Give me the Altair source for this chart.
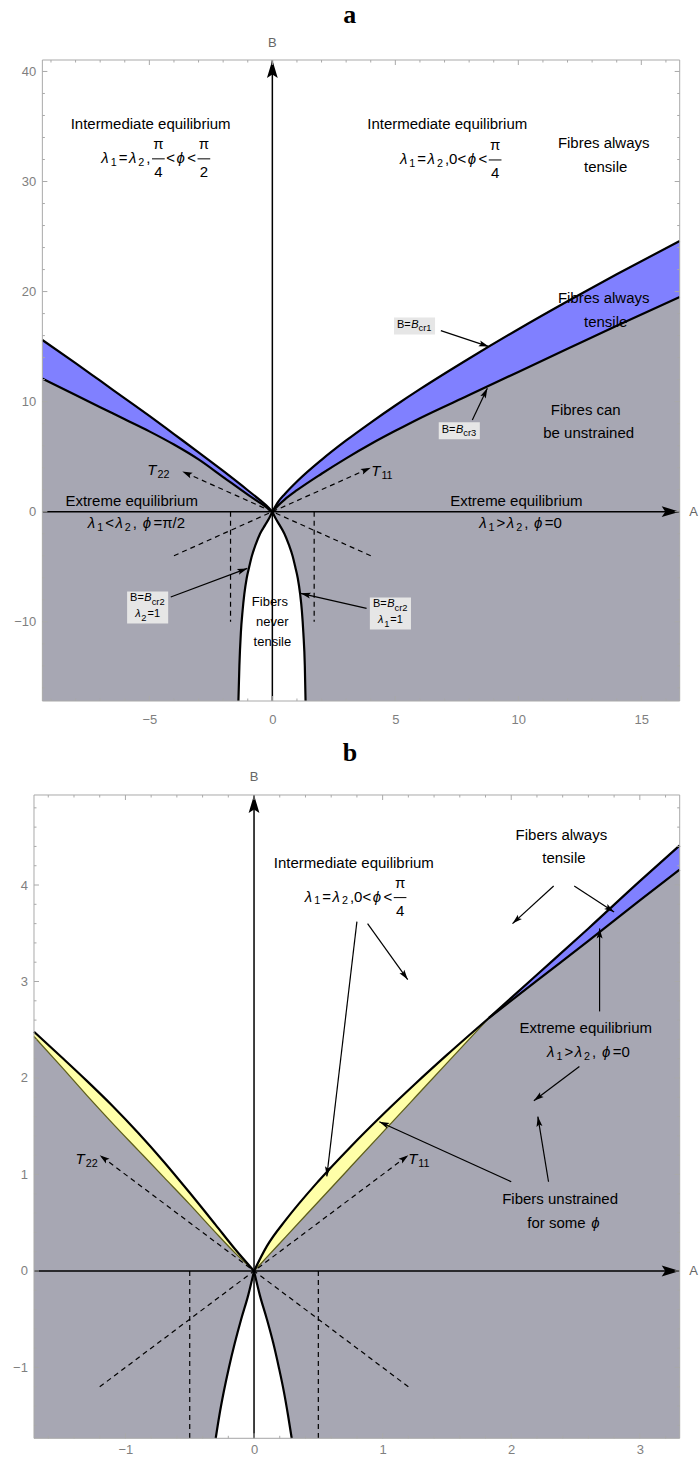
import math
import altair as alt
import pandas as pd

FONT = "Liberation Sans"
SERIF = "Liberation Serif"
GRAY_FILL = "#A7A7B3"
BLUE_FILL = "#8080FF"
YELLOW_FILL = "#FFFFA8"
OLIVE = "#5E5E1A"
FRAME_COL = "#A9A9A9"
LABEL_COL = "#7F7F7F"

# arrowhead glyph: tip at the origin, body along +y (rotated by angle)
ARROW = "M0,0L0.6,2L0,1.6L-0.6,2Z"

# ---------------------------------------------------------------- panel a
a_xdom = [-9.69, 16.56]
a_ydom = [-17.2, 41.04]
a_frame_x = [-9.35, 16.56]
a_xlabels = [-5, 0, 5, 10, 15]
a_ylabels = [-10, 0, 10, 20, 30, 40]
a_xminor = [-9, -8, -7, -6, -4, -3, -2, -1, 1, 2, 3, 4, 6, 7, 8, 9, 11, 12, 13, 14, 16]
a_yminor = [-16, -14, -12, -8, -6, -4, -2, 2, 4, 6, 8, 12, 14, 16, 18,
            22, 24, 26, 28, 32, 34, 36, 38]

a_right_A = [0, 0.25, 0.5, 1, 2, 3, 4, 5, 6, 8, 10, 12, 14, 16.56]
a_right_upper = [0, 0.93, 1.59, 2.74, 4.71, 6.47, 8.10, 9.65, 11.13, 13.92, 16.58, 19.12, 21.57, 24.6]
a_right_lower = [0, 0.6, 1.1, 1.95, 3.45, 4.85, 6.15, 7.35, 8.5, 10.6, 12.7, 14.8, 16.9, 19.5]
a_left_A = [-9.35, -8, -7, -6, -5, -4, -3, -2, -1, -0.5, -0.25, 0]
a_left_upper = [15.6, 13.5, 11.9, 10.3, 8.7, 7.05, 5.4, 3.7, 1.95, 1.05, 0.58, 0]
a_left_lower = [12.1, 10.6, 9.5, 8.4, 7.3, 6.1, 4.75, 3.15, 1.55, 0.8, 0.42, 0]
a_par_B = [-17.2, -14, -11, -9, -7.5, -6, -5, -4, -3, -2, -1.2, -0.6, 0]
a_par_left = [-1.38, -1.34, -1.28, -1.21, -1.14, -1.04, -0.94, -0.83, -0.68, -0.50, -0.29, -0.13, 0]
a_par_right = [1.35, 1.32, 1.26, 1.20, 1.13, 1.03, 0.93, 0.82, 0.67, 0.49, 0.29, 0.13, 0]

# ---------------------------------------------------------------- panel b
b_xdom = [-1.711, 3.31]
b_ydom = [-1.734, 4.933]
b_frame_x = [-1.711, 3.31]
b_xlabels = [-1, 0, 1, 2, 3]
b_ylabels = [-1, 0, 1, 2, 3, 4]
b_xminor = [-1.6, -1.4, -1.2, -0.8, -0.6, -0.4, -0.2, 0.2, 0.4, 0.6, 0.8,
            1.2, 1.4, 1.6, 1.8, 2.2, 2.4, 2.6, 2.8, 3.2]
b_yminor = [-1.6, -1.4, -1.2, -0.8, -0.6, -0.4, -0.2, 0.2, 0.4, 0.6, 0.8,
            1.2, 1.4, 1.6, 1.8, 2.2, 2.4, 2.6, 2.8, 3.2, 3.4, 3.6, 3.8,
            4.2, 4.4, 4.6, 4.8]

b_right_A = [0, 0.1, 0.25, 0.5, 0.75, 1.0, 1.25, 1.5, 1.825]
b_right_upper = [0, 0.257, 0.534, 0.930, 1.286, 1.619, 1.935, 2.239, 2.62]
b_right_olive = [0, 0.144, 0.359, 0.718, 1.077, 1.436, 1.795, 2.154, 2.62]
b_far_A = [1.825, 2.2, 2.6, 3.0, 3.31]
b_far_upper = [2.62, 3.07, 3.55, 4.04, 4.41]
b_far_lower = [2.62, 3.01, 3.42, 3.84, 4.16]
b_left_A = [-1.711, -1.5, -1.3, -1.1, -0.9, -0.7, -0.5, -0.3, -0.15, 0]
b_left_upper = [2.48, 2.22, 1.97, 1.71, 1.43, 1.13, 0.81, 0.48, 0.23, 0]
b_left_olive = [2.43, 2.12, 1.82, 1.53, 1.25, 0.97, 0.69, 0.40, 0.19, 0]
b_par_B = [-1.734, -1.5, -1.25, -1.0, -0.75, -0.5, -0.25, 0]
b_par_left = [-0.298, -0.27, -0.235, -0.195, -0.15, -0.10, -0.045, 0]
b_par_right = [0.293, 0.265, 0.232, 0.193, 0.15, 0.10, 0.045, 0]

CW = {"λ": 0.56, "ϕ": 0.62, "π": 0.58, "=": 0.584, "<": 0.584, ">": 0.584,
      ",": 0.278, " ": 0.278, "/": 0.278, "T": 0.611, "B": 0.667, "c": 0.5,
      "r": 0.333, "f": 0.278, "o": 0.556, "s": 0.5, "m": 0.833, "e": 0.556}


def text_width(s, size):
    return sum(CW.get(ch, 0.556) * size for ch in s)


def layout_math(segs, size, gap, sub=0.72):
    """Inline math: ('n', txt) upright, ('i', txt) italic, ('s', txt) subscript,
    ('f', num, den) stacked fraction. Returns glyph items and fraction bars."""
    items, bars, pos = [], [], 0.0
    for seg in segs:
        kind = seg[0]
        if kind in ("n", "i"):
            items.append([pos, 0, seg[1], size, kind == "i", "left"])
            pos += text_width(seg[1], size) + gap
        elif kind == "s":
            ss = size * sub
            items.append([pos - 0.5, size * 0.32, seg[1], ss, False, "left"])
            pos += text_width(seg[1], ss) + gap
        else:
            w = max(text_width(seg[1], size), text_width(seg[2], size)) + 4
            items.append([pos + w / 2, -size * 0.9, seg[1], size, False, "center"])
            items.append([pos + w / 2, size * 0.95, seg[2], size, False, "center"])
            bars.append([pos, pos + w, 1])
            pos += w + gap
    total = pos - gap
    for it in items:
        it[0] -= total / 2
    for b in bars:
        b[0] -= total / 2
        b[1] -= total / 2
    return items, bars, total


def build_panel(P):
    xs = alt.Scale(domain=P["xdom"], nice=False, zero=False)
    ys = alt.Scale(domain=P["ydom"], nice=False, zero=False)
    xaxis = alt.Axis(values=P["xlabels"], ticks=False, domain=False, grid=False,
                     labelPadding=P["xpad"], labelColor=LABEL_COL, labelFontSize=13,
                     labelFont=FONT, title=None)
    yaxis = alt.Axis(values=P["ylabels"], ticks=False, domain=False, grid=False,
                     labelPadding=P["ypad"], labelColor=LABEL_COL, labelFontSize=13,
                     labelFont=FONT, title=None)
    sx = P["w"] / (P["xdom"][1] - P["xdom"][0])
    sy = P["h"] / (P["ydom"][1] - P["ydom"][0])

    def X(f):
        return alt.X(f, type="quantitative", scale=xs, axis=xaxis)

    def Y(f):
        return alt.Y(f, type="quantitative", scale=ys, axis=yaxis)

    layers = []
    y0, y1 = P["ydom"]
    fx0, fx1 = P["frame_x"]

    def one(**cols):
        return pd.DataFrame({k: [v] for k, v in cols.items()})

    # ---- filled regions
    for A, L in P["gray"]:
        df = pd.DataFrame({"x": A, "y": L, "y0": [y0] * len(A)})
        layers.append(alt.Chart(df).mark_area(color=GRAY_FILL, opacity=1, interpolate="monotone")
                      .encode(x=X("x"), y=Y("y"), y2="y0"))
    for A, L, U, col in P["bands"]:
        df = pd.DataFrame({"x": A, "lo": L, "hi": U})
        layers.append(alt.Chart(df).mark_area(color=col, opacity=1, interpolate="monotone")
                      .encode(x=X("x"), y=Y("lo"), y2="hi"))
    pB, pl, pr = P["para"]
    df = pd.DataFrame({"b": pB, "l": pl, "r": pr})
    layers.append(alt.Chart(df).mark_area(color="white", opacity=1, orient="horizontal",
                                          interpolate="monotone")
                  .encode(y=Y("b"), x=X("l"), x2="r"))

    # ---- boundary curves
    for A, V, col, sw in P["curves"]:
        df = pd.DataFrame({"x": A, "y": V})
        layers.append(alt.Chart(df).mark_line(color=col, strokeWidth=sw, interpolate="monotone")
                      .encode(x=X("x"), y=Y("y")))
    for branch in (pl, pr):
        df = pd.DataFrame({"x": branch, "y": pB})
        layers.append(alt.Chart(df).mark_line(color="black", strokeWidth=2.2,
                                              interpolate="monotone")
                      .encode(x=X("x"), y=Y("y")))

    def arrowhead(x1, yy1, x2, yy2, size):
        ang = math.degrees(math.atan2((x2 - x1) * sx, (yy2 - yy1) * sy)) % 360
        return (alt.Chart(one(x=x2, y=yy2))
                .mark_point(shape=ARROW, filled=True, size=size, angle=ang, color="black",
                            opacity=1, strokeWidth=0)
                .encode(x=X("x"), y=Y("y")))

    # ---- dashed guides
    for x1, yy1, x2, yy2, head in P["dashed"]:
        layers.append(alt.Chart(one(x=x1, y=yy1, x2=x2, y2=yy2))
                      .mark_rule(color="black", strokeWidth=1.2, strokeDash=[5, 4])
                      .encode(x=X("x"), y=Y("y"), x2="x2", y2="y2"))
        if head:
            layers.append(arrowhead(x1, yy1, x2, yy2, 100))

    # ---- A and B axes with arrowheads
    layers.append(alt.Chart(one(x=fx0, x2=fx1, y=0, y2=0))
                  .mark_rule(color="black", strokeWidth=1.5)
                  .encode(x=X("x"), x2="x2", y=Y("y"), y2="y2"))
    layers.append(arrowhead(fx0, 0, fx1, 0, 324))
    layers.append(alt.Chart(one(x=0, x2=0, y=y0, y2=y1))
                  .mark_rule(color="black", strokeWidth=1.5)
                  .encode(x=X("x"), x2="x2", y=Y("y"), y2="y2"))
    layers.append(arrowhead(0, y0, 0, y1, 324))

    # ---- frame and inward ticks
    layers.append(alt.Chart(one(x=fx0, x2=fx1, y=y0, y2=y1))
                  .mark_rect(fillOpacity=0, stroke=FRAME_COL, strokeWidth=1)
                  .encode(x=X("x"), x2="x2", y=Y("y"), y2="y2"))
    for vals, ln in ((P["xlabels"], 5), (P["xminor"], 2.5)):
        df = pd.DataFrame({"v": vals, "b": [y0] * len(vals), "t": [y1] * len(vals)})
        layers.append(alt.Chart(df).mark_rule(color=FRAME_COL, strokeWidth=1, y2Offset=-ln)
                      .encode(x=X("v"), y=Y("b"), y2="b"))
        layers.append(alt.Chart(df).mark_rule(color=FRAME_COL, strokeWidth=1, y2Offset=ln)
                      .encode(x=X("v"), y=Y("t"), y2="t"))
    for vals, ln in ((P["ylabels"], 5), (P["yminor"], 2.5)):
        df = pd.DataFrame({"v": vals, "l": [fx0] * len(vals), "r": [fx1] * len(vals)})
        layers.append(alt.Chart(df).mark_rule(color=FRAME_COL, strokeWidth=1, x2Offset=ln)
                      .encode(y=Y("v"), x=X("l"), x2="l"))
        layers.append(alt.Chart(df).mark_rule(color=FRAME_COL, strokeWidth=1, x2Offset=-ln)
                      .encode(y=Y("v"), x=X("r"), x2="r"))

    # axis names and panel letter
    layers.append(alt.Chart(one(x=0, y=y1, t="B")).mark_text(
        font=FONT, fontSize=13, color="#666666", dy=P["bname_dy"], baseline="middle")
        .encode(x=X("x"), y=Y("y"), text="t:N"))
    layers.append(alt.Chart(one(x=fx1, y=0, t="A")).mark_text(
        font=FONT, fontSize=13, color="#666666", dx=14, baseline="middle")
        .encode(x=X("x"), y=Y("y"), text="t:N"))
    layers.append(alt.Chart(one(t=P["title"])).mark_text(
        font=SERIF, fontSize=26, fontWeight="bold", color="black", align="center",
        baseline="alphabetic")
        .encode(x=alt.value(P["w"] / 2 - 7), y=alt.value(-P["toff"]), text="t:N"))

    def glyphs(x, y, segs, size, gap=1.5, dy0=0, sub=0.72):
        out = []
        items, bars, total = layout_math(segs, size, gap, sub)
        for dx, dy, s, sz, it, al in items:
            out.append(alt.Chart(one(x=x, y=y, t=s)).mark_text(
                font=FONT, fontSize=sz, fontStyle="italic" if it else "normal",
                align=al, baseline="middle", dx=dx, dy=dy + dy0, color="black")
                .encode(x=X("x"), y=Y("y"), text="t:N"))
        for b0, b1, bdy in bars:
            out.append(alt.Chart(one(x=x, y=y)).mark_rule(
                color="black", strokeWidth=1, xOffset=b0, x2Offset=b1,
                yOffset=bdy + dy0, y2Offset=bdy + dy0)
                .encode(x=X("x"), x2="x", y=Y("y"), y2="y"))
        return out, total

    # ---- label boxes
    for x, y, lines, size in P["boxes"]:
        widths = [layout_math(l, size, 0.5, 0.85)[2] for l in lines]
        bw = max(widths) + 6
        bh = 15 * len(lines) + 2
        shape = "M-1,{:.4f}H1V{:.4f}H-1Z".format(-bh / bw, bh / bw)
        layers.append(alt.Chart(one(x=x, y=y)).mark_point(
            shape=shape, size=bw * bw, filled=True, color="#E6E6E6", opacity=1, strokeWidth=0)
            .encode(x=X("x"), y=Y("y")))
        for k, l in enumerate(lines):
            dy0 = (k - (len(lines) - 1) / 2) * 16 - 1
            g, _ = glyphs(x, y, l, size, 0.5, dy0, 0.85)
            layers.extend(g)

    # ---- annotation arrows
    for x1, yy1, x2, yy2 in P["arrows"]:
        layers.append(alt.Chart(one(x=x1, y=yy1, x2=x2, y2=yy2))
                      .mark_rule(color="black", strokeWidth=1.2)
                      .encode(x=X("x"), y=Y("y"), x2="x2", y2="y2"))
        layers.append(arrowhead(x1, yy1, x2, yy2, 100))

    # ---- plain text and inline math
    for x, y, s, size in P["texts"]:
        layers.append(alt.Chart(one(x=x, y=y, t=s)).mark_text(
            font=FONT, fontSize=size, baseline="middle", color="black")
            .encode(x=X("x"), y=Y("y"), text="t:N"))
    for x, y, segs, size in P["maths"]:
        g, _ = glyphs(x, y, segs, size)
        layers.extend(g)

    return alt.layer(*layers).properties(width=P["w"], height=P["h"])


L1 = [("i", "λ"), ("s", "1"), ("n", "="), ("i", "λ"), ("s", "2")]
PHI = ("i", "ϕ")

panel_a = dict(
    title="a", toff=37, w=645.7, h=641.0, xdom=a_xdom, ydom=a_ydom, frame_x=a_frame_x,
    xlabels=a_xlabels, ylabels=a_ylabels, xminor=a_xminor, yminor=a_yminor,
    xpad=12.5, ypad=-1.7, bname_dy=-17,
    gray=[(a_left_A, a_left_lower), (a_right_A, a_right_lower)],
    bands=[(a_left_A, a_left_lower, a_left_upper, BLUE_FILL),
           (a_right_A, a_right_lower, a_right_upper, BLUE_FILL)],
    para=(a_par_B, a_par_left, a_par_right),
    curves=[(a_left_A, a_left_upper, "black", 2.2), (a_left_A, a_left_lower, "black", 2.2),
            (a_right_A, a_right_upper, "black", 2.2), (a_right_A, a_right_lower, "black", 2.2)],
    dashed=[(-4, -4, 4, 4, True), (4, -4, -3.66, 3.66, True),
            (-1.7, 0, -1.7, -10, False), (1.7, 0, 1.7, -10, False)],
    boxes=[(5.78, 16.88, [[("n", "B="), ("i", "B"), ("s", "cr1")]], 11),
           (7.6, 7.35, [[("n", "B="), ("i", "B"), ("s", "cr3")]], 11),
           (-5.07, -8.7, [[("n", "B="), ("i", "B"), ("s", "cr2")],
                          [("i", "λ"), ("s", "2"), ("n", "=1")]], 11),
           (4.8, -9.24, [[("n", "B="), ("i", "B"), ("s", "cr2")],
                         [("i", "λ"), ("s", "1"), ("n", "=1")]], 11)],
    arrows=[(6.85, 16.45, 8.8, 15.0), (8.13, 8.34, 8.74, 11.22),
            (-4.13, -7.75, -1.02, -5.15), (3.83, -8.78, 1.15, -7.42)],
    texts=[(-4.95, 35.2, "Intermediate equilibrium", 15),
           (7.11, 35.2, "Intermediate equilibrium", 15),
           (13.47, 33.5, "Fibres always", 15), (13.55, 31.3, "tensile", 15),
           (13.47, 19.4, "Fibres always", 15), (13.55, 17.25, "tensile", 15),
           (12.74, 9.25, "Fibres can", 15), (12.86, 7.15, "be unstrained", 15),
           (-5.72, 1.0, "Extreme equilibrium", 15), (9.92, 1.0, "Extreme equilibrium", 15),
           (-0.1, -8.24, "Fibers", 13), (0.0, -10.0, "never", 13), (0.0, -11.8, "tensile", 13)],
    maths=[(-4.74, 32.15, L1 + [("n", ","), ("f", "π", "4"), ("n", "<"), PHI, ("n", "<"),
                                ("f", "π", "2")], 15),
           (7.25, 32.05, L1 + [("n", ",0<"), PHI, ("n", "<"), ("f", "π", "4")], 15),
           (-5.56, -1.05, [("i", "λ"), ("s", "1"), ("n", "<"), ("i", "λ"), ("s", "2"),
                           ("n", ", "), PHI, ("n", "=π/2")], 15),
           (10.09, -1.05, [("i", "λ"), ("s", "1"), ("n", ">"), ("i", "λ"), ("s", "2"),
                           ("n", ", "), PHI, ("n", "=0")], 15),
           (-4.62, 3.79, [("i", "T"), ("s", "22")], 15),
           (4.48, 3.7, [("i", "T"), ("s", "11")], 15)],
)

panel_b = dict(
    title="b", toff=34, w=645.7, h=643.3, xdom=b_xdom, ydom=b_ydom, frame_x=b_frame_x,
    xlabels=b_xlabels, ylabels=b_ylabels, xminor=b_xminor, yminor=b_yminor,
    xpad=5, ypad=6.6, bname_dy=-18,
    gray=[(b_left_A, b_left_olive),
          (b_right_A + b_far_A[1:], b_right_olive + b_far_lower[1:])],
    bands=[(b_left_A, b_left_olive, b_left_upper, YELLOW_FILL),
           (b_right_A, b_right_olive, b_right_upper, YELLOW_FILL),
           (b_far_A, b_far_lower, b_far_upper, BLUE_FILL)],
    para=(b_par_B, b_par_left, b_par_right),
    curves=[(b_left_A, b_left_olive, OLIVE, 1.3), (b_right_A, b_right_olive, OLIVE, 1.3),
            (b_left_A, b_left_upper, "black", 2.2), (b_right_A, b_right_upper, "black", 2.2),
            (b_far_A, b_far_upper, "black", 2.2), (b_far_A, b_far_lower, "black", 2.2)],
    dashed=[(-1.2, -1.2, 1.2, 1.2, True), (1.2, -1.2, -1.2, 1.2, True),
            (-0.5, 0, -0.5, -1.734, False), (0.5, 0, 0.5, -1.734, False)],
    boxes=[],
    arrows=[(0.80, 3.62, 0.566, 0.98), (0.883, 3.60, 1.195, 3.02),
            (2.33, 3.99, 2.01, 3.60), (2.49, 3.99, 2.80, 3.72),
            (2.687, 2.69, 2.687, 3.55), (2.53, 2.12, 2.176, 1.765),
            (2.0, 0.925, 0.974, 1.547), (2.29, 0.925, 2.207, 1.60)],
    texts=[(0.776, 4.23, "Intermediate equilibrium", 15),
           (2.39, 4.52, "Fibers always", 15), (2.41, 4.28, "tensile", 15),
           (2.58, 2.52, "Extreme equilibrium", 15),
           (2.38, 0.746, "Fibers unstrained", 15)],
    maths=[(0.79, 3.88, L1 + [("n", ",0<"), PHI, ("n", "<"), ("f", "π", "4")], 15),
           (2.6, 2.27, [("i", "λ"), ("s", "1"), ("n", ">"), ("i", "λ"), ("s", "2"),
                        ("n", ", "), PHI, ("n", "=0")], 15),
           (2.41, 0.50, [("n", "for some "), PHI], 15),
           (-1.30, 1.157, [("i", "T"), ("s", "22")], 15),
           (1.287, 1.157, [("i", "T"), ("s", "11")], 15)],
)

chart = alt.vconcat(build_panel(panel_a), build_panel(panel_b), spacing=94, bounds="flush") \
    .properties(padding={"left": 12, "top": 2, "right": 0, "bottom": 0}) \
    .configure_view(stroke=None)

chart.save("out.html", embed_options={"renderer": "svg", "actions": False})
